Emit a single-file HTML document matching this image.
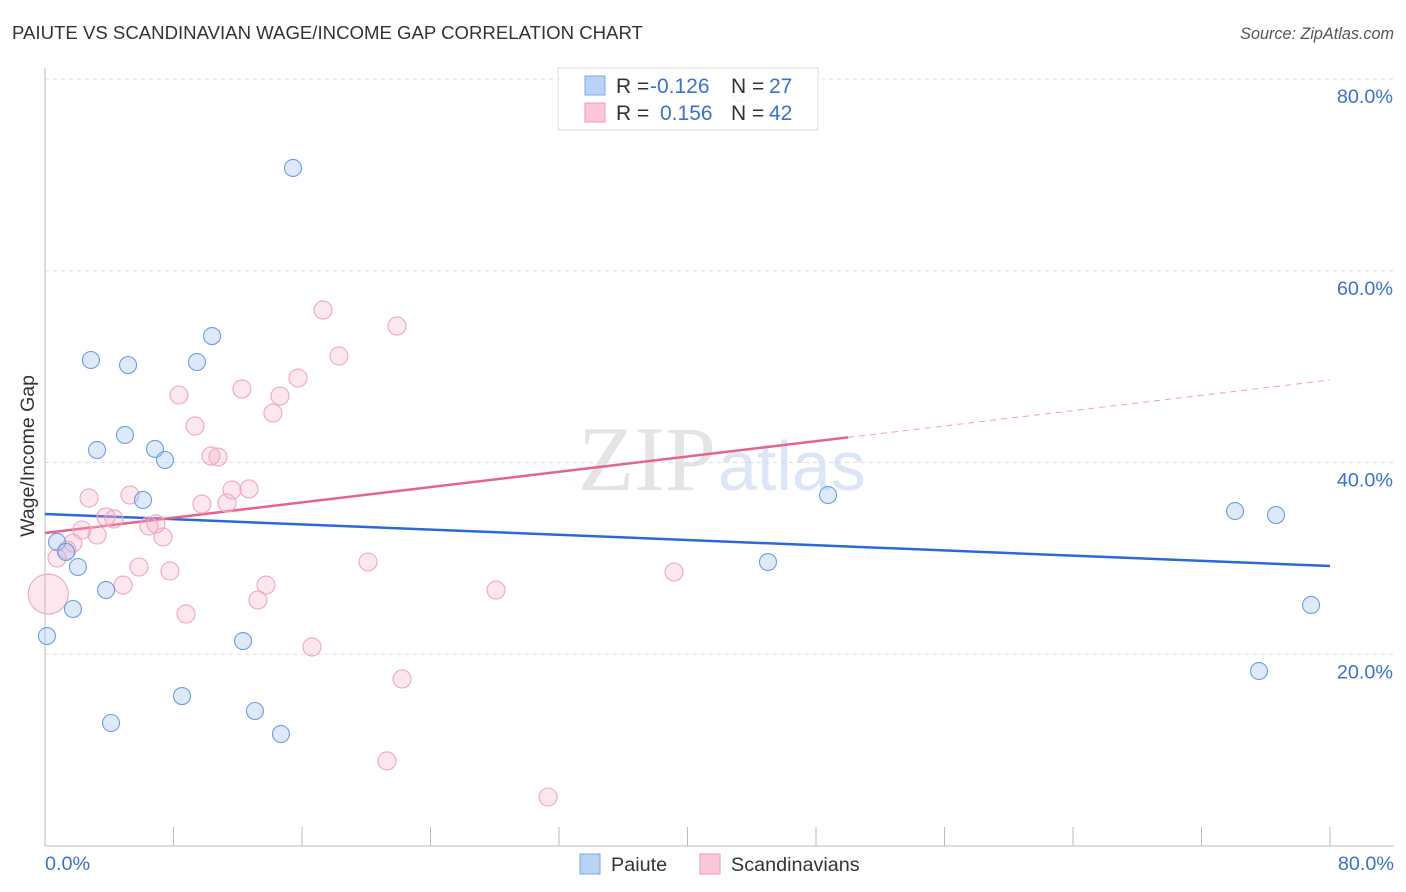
<!DOCTYPE html>
<html><head><meta charset="utf-8"><style>
body{margin:0;background:#fff;font-family:"Liberation Sans",sans-serif;}
svg{display:block}
</style></head><body>
<svg id="chart" width="1406" height="892" xmlns="http://www.w3.org/2000/svg">
<text x="12" y="39" font-size="18.6" fill="#333">PAIUTE VS SCANDINAVIAN WAGE/INCOME GAP CORRELATION CHART</text>
<text x="1394" y="39" font-size="16.2" fill="#555" font-style="italic" text-anchor="end">Source: ZipAtlas.com</text>
<text x="716" y="490" font-size="92" fill="#e4e4e4" text-anchor="end" font-family="Liberation Serif">ZIP</text>
<text x="718" y="490" font-size="70" fill="#dbe6f7">atlas</text>
<g id="grid"></g>
<g id="axes"></g>
<g id="trends"></g>
<g id="points"></g>
<text x="34" y="456" font-size="19.5" fill="#333" text-anchor="middle" transform="rotate(-90 34 456)">Wage/Income Gap</text>
<g>
<rect x="558" y="68" width="260" height="62" fill="rgba(255,255,255,0.85)" stroke="#ddd"/>
<rect x="585" y="76" width="20" height="19" fill="#b9d3f5" stroke="#7aaae8"/>
<rect x="585" y="103" width="20" height="19" fill="#fcc8d8" stroke="#f09ab5"/>
<text x="616" y="93" font-size="21" fill="#333">R = </text><text x="650" y="93" font-size="21" fill="#3a72d0">-0.126</text>
<text x="731" y="93" font-size="21" fill="#333">N = </text><text x="769" y="93" font-size="21" fill="#3a72d0">27</text>
<text x="616" y="120" font-size="21" fill="#333">R = </text><text x="660" y="120" font-size="21" fill="#3a72d0">0.156</text>
<text x="731" y="120" font-size="21" fill="#333">N = </text><text x="769" y="120" font-size="21" fill="#3a72d0">42</text>
</g>
<g>
<rect x="580" y="854" width="20" height="20" fill="#b9d3f5" stroke="#7aaae8"/>
<text x="611" y="871" font-size="19.8" fill="#333">Paiute</text>
<rect x="700" y="854" width="20" height="20" fill="#fcc8d8" stroke="#f09ab5"/>
<text x="731" y="871" font-size="19.8" fill="#333">Scandinavians</text>
</g>
</svg>
<script>
const paiuteX=[15.44,10.40,2.86,5.17,9.46,4.98,3.24,6.85,7.47,6.10,0.75,1.31,2.05,3.80,1.74,0.12,12.33,8.53,4.11,13.07,14.69,48.75,45.01,74.09,76.64,78.82,75.58];
const paiuteY=[70.72,53.19,50.69,50.17,50.48,42.87,41.30,41.41,40.26,36.09,31.71,30.67,29.10,26.70,24.72,21.90,21.38,15.64,12.83,14.08,11.68,36.61,29.62,34.94,34.52,25.14,18.25];
const scandX=[17.31,21.91,18.30,15.75,12.26,14.63,8.34,14.19,9.34,10.33,10.77,2.74,5.29,11.64,12.70,9.77,11.33,3.80,4.30,6.47,6.91,2.30,3.24,7.35,1.74,1.37,0.75,5.85,7.78,20.11,4.86,13.76,13.26,8.78,28.08,39.16,16.62,22.23,21.29,31.32,0.2,43.4];
const scandY=[55.91,54.24,51.11,48.81,47.67,46.94,47.04,45.16,43.81,40.68,40.57,36.30,36.61,37.13,37.24,35.67,35.78,34.32,34.11,33.38,33.59,32.96,32.44,32.23,31.60,30.87,30.04,29.10,28.68,29.62,27.22,27.22,25.66,24.20,26.70,28.58,20.76,17.42,8.87,5.11,26.28,78.54];
const scandR=[9,9,9,9,9,9,9,9,9,9,9,9,9,9,9,9,9,9,9,9,9,9,9,9,9,9,9,9,9,9,9,9,9,9,9,9,9,9,9,9,20,9];
const yTicks=[20,40,60,80];
const xTickVals=[0,8,16,24,32,40,48,56,64,72,80];
const paiuteTrend=[34.63,29.2];
const scandTrend=[32.65,48.6];
const scandSolidEnd=50;

const NS="http://www.w3.org/2000/svg";
const X=v=>45+v*16.0625, Y=v=>846-v*9.5875;
function mk(tag,attrs,parent){const e=document.createElementNS(NS,tag);for(const k in attrs)e.setAttribute(k,attrs[k]);document.getElementById(parent).appendChild(e);return e;}
yTicks.forEach(t=>{
  const l=mk('line',{x1:45,x2:1394,y1:Y(t),y2:Y(t),stroke:'#ddd','stroke-dasharray':'4,4'},'grid');
  
  
  const tx=mk('text',{x:1393,y:Y(t)+24,'font-size':19.8,fill:'#3a72d0','text-anchor':'end'},'grid');
  tx.textContent=t.toFixed(1)+'%';
  
  
});
const ax=mk('line',{x1:45,x2:45,y1:68,y2:846,stroke:'#bbb'},'axes');


const bx=mk('line',{x1:45,x2:1394,y1:846,y2:846,stroke:'#bbb'},'axes');


xTickVals.forEach(t=>{
  const l=mk('line',{x1:X(t),x2:X(t),y1:827,y2:846,stroke:'#bbb'},'axes');
  
  
});
[[0,'start',45],[80,'end',1394]].forEach(([v,a,px])=>{
  const t=mk('text',{x:px,y:870,'font-size':19.8,fill:'#3a72d0','text-anchor':a},'axes');
  t.textContent=v.toFixed(1)+'%';
  
  
});
function ty(tr,x){return tr[0]+(tr[1]-tr[0])*x/80;}
let l=mk('line',{x1:X(0),y1:Y(ty(paiuteTrend,0)),x2:X(80),y2:Y(ty(paiuteTrend,80)),stroke:'#2a6ad6','stroke-width':2.5},'trends');


l=mk('line',{x1:X(0),y1:Y(ty(scandTrend,0)),x2:X(scandSolidEnd),y2:Y(ty(scandTrend,scandSolidEnd)),stroke:'#e8628e','stroke-width':2.5},'trends');


l=mk('line',{x1:X(scandSolidEnd),y1:Y(ty(scandTrend,scandSolidEnd)),x2:X(80),y2:Y(ty(scandTrend,80)),stroke:'#f0a0b8','stroke-width':1,'stroke-dasharray':'6,5'},'trends');


scandX.forEach((x,i)=>{
  const c=mk('circle',{cx:X(x),cy:Y(scandY[i]),r:scandR[i],fill:'rgba(248,170,195,0.28)',stroke:'#f2a6be','stroke-width':1.1},'points');
  
  
});
paiuteX.forEach((x,i)=>{
  const c=mk('circle',{cx:X(x),cy:Y(paiuteY[i]),r:8.5,fill:'rgba(160,195,240,0.35)',stroke:'#6a9ee6','stroke-width':1.1},'points');
  
  
});
</script>
</body></html>
